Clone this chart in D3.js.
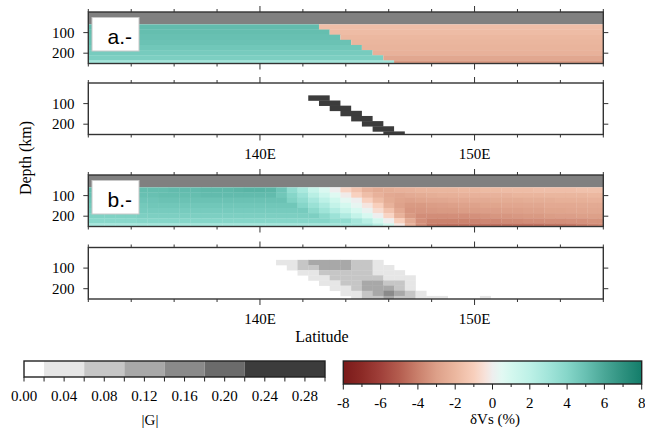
<!DOCTYPE html>
<meta charset="utf-8">
<style>
body { margin: 0; background: #fff; }
</style>
<body>
<div id="chart"></div>
<script src="https://d3js.org/d3.v7.min.js"></script>
<script>

var width = 645, height = 432;
var serif = "'Liberation Serif', 'Times New Roman', Times, 'DejaVu Serif', serif";
var sans = "'Liberation Sans', Arial, Helvetica, sans-serif";

// grid cell centres (longitude) and top of each depth layer (km)
var lons = [132, 132.5, 133, 133.5, 134, 134.5, 135, 135.5, 136, 136.5, 137, 137.5,
            138, 138.5, 139, 139.5, 140, 140.5, 141, 141.5, 142, 142.5, 143, 143.5,
            144, 144.5, 145, 145.5, 146, 146.5, 147, 147.5, 148, 148.5, 149, 149.5,
            150, 150.5, 151, 151.5, 152, 152.5, 153, 153.5, 154, 154.5, 155, 155.5, 156];
var depthTops = [60, 85, 110, 135, 160, 185, 210, 235];
var layerThick = 25;

var lonTicks = [132, 134, 136, 138, 140, 142, 144, 146, 148, 150, 152, 154, 156];
var lonLabels = [140, 150];
var depthTicks = [100, 200];

// a.- input model : fast (slab side) / slow, split at one longitude per layer
var aBoundary = [142.75, 143.25, 143.75, 144.25, 144.75, 145.25, 145.75, 146.25];
var aFast = [5.2, 5.1, 5.0, 4.9, 4.7, 4.5, 4.3, 3.0];
var aSlow = [-1.7, -1.8, -1.95, -2.05, -2.15, -2.25, -2.7, -3.2];
// |G| of the input : one dark block per layer
var aGradFrom = [142.25, 142.75, 143.25, 143.75, 144.25, 144.75, 145.25, 145.75];
var aGradTo   = [143.25, 143.75, 144.25, 144.75, 145.25, 145.75, 146.25, 146.75];
var aGradVal = 0.26;

// b.- recovered model, one row per layer, one value per longitude (132 .. 156)
var bVs = [
  [5.1, 5.1, 5.1, 5.1, 5.1, 5.1, 5.1, 5.1, 5.2, 5.2, 5.2, 5.3, 5.3, 5.3, 5.4, 5.5, 5.5, 5.4, 4.8, 3.6, 2.7, 1.6, 0.8, 0.0,
   -0.85, -1.5, -2.2, -2.5, -2.4, -2.25, -2.2, -2.1, -2.1, -2.05, -2.05, -1.95, -1.95,
   -1.85, -1.85, -1.8, -1.8, -1.8, -1.7, -1.7, -1.7, -1.7, -1.6, -1.6, -1.6],
  [5.0, 5.0, 5.0, 5.0, 5.0, 5.0, 5.0, 5.1, 5.1, 5.1, 5.1, 5.2, 5.2, 5.2, 5.2, 5.2, 5.2, 5.2, 4.7, 4.0, 3.2, 2.2, 1.3, 0.6,
   -0.1, -0.95, -1.7, -2.25, -2.6, -2.7, -2.55, -2.5, -2.4, -2.3, -2.3, -2.25, -2.25,
   -2.2, -2.2, -2.2, -2.1, -2.1, -2.1, -2.05, -2.05, -2.05, -2.05, -1.95, -1.95],
  [4.8, 4.8, 4.8, 4.8, 4.8, 4.8, 4.8, 4.9, 4.9, 4.9, 4.9, 4.9, 4.9, 4.9, 4.9, 4.9, 4.9, 4.9, 4.9, 4.2, 3.6, 2.8, 2.0, 1.2,
   0.4, 0.0, -0.95, -1.8, -2.5, -2.8, -2.9, -2.8, -2.75, -2.7, -2.6, -2.6, -2.55,
   -2.55, -2.5, -2.5, -2.5, -2.4, -2.4, -2.4, -2.3, -2.3, -2.3, -2.25, -2.25],
  [4.6, 4.6, 4.6, 4.6, 4.6, 4.6, 4.7, 4.7, 4.7, 4.7, 4.7, 4.7, 4.7, 4.7, 4.7, 4.7, 4.7, 4.7, 4.7, 4.7, 4.0, 3.3, 2.6, 1.7,
   1.0, 0.3, -0.3, -1.0, -2.2, -2.9, -3.2, -3.2, -3.1, -3.05, -3.0, -2.9, -2.9,
   -2.8, -2.8, -2.75, -2.75, -2.7, -2.7, -2.6, -2.6, -2.6, -2.55, -2.55, -2.55],
  [4.4, 4.4, 4.4, 4.4, 4.4, 4.5, 4.5, 4.5, 4.5, 4.5, 4.5, 4.5, 4.5, 4.5, 4.5, 4.5, 4.5, 4.5, 4.5, 4.5, 4.5, 3.8, 3.1, 2.4,
   1.6, 0.9, 0.2, -0.6, -1.5, -2.6, -3.3, -3.3, -3.25, -3.2, -3.2, -3.1, -3.1,
   -3.05, -3.05, -3.0, -3.0, -2.9, -2.9, -2.8, -2.8, -2.75, -2.75, -2.7, -2.7],
  [4.2, 4.2, 4.2, 4.2, 4.2, 4.3, 4.3, 4.3, 4.3, 4.3, 4.3, 4.3, 4.3, 4.3, 4.3, 4.3, 4.3, 4.3, 4.3, 4.3, 4.3, 4.3, 3.8, 3.2,
   2.5, 1.7, 0.9, 0.0, -0.85, -2.2, -3.2, -3.6, -3.6, -3.6, -3.55, -3.55, -3.5,
   -3.4, -3.3, -3.3, -3.25, -3.2, -3.2, -3.1, -3.05, -3.05, -3.0, -3.0, -3.0],
  [3.9, 3.9, 3.9, 3.9, 3.9, 4.0, 4.0, 4.0, 4.0, 4.0, 4.0, 4.0, 4.0, 4.0, 4.0, 4.0, 4.0, 4.0, 4.0, 4.0, 4.0, 4.0, 4.0, 3.6,
   3.6, 2.9, 2.2, 1.1, 0.0, -1.0, -2.55, -3.55, -3.95, -3.95, -3.95, -3.95, -3.9,
   -3.8, -3.8, -3.7, -3.7, -3.6, -3.6, -3.55, -3.55, -3.5, -3.5, -3.4, -3.4],
  [2.8, 2.8, 2.8, 2.8, 2.8, 2.9, 2.9, 2.9, 2.9, 2.9, 2.9, 2.9, 2.9, 2.9, 2.9, 2.9, 2.9, 2.9, 2.9, 2.9, 2.9, 2.9, 2.9, 2.9,
   2.9, 2.9, 2.9, 2.2, 1.2, -0.2, -2.2, -3.55, -4.3, -4.4, -4.4, -4.4, -4.4,
   -4.4, -4.4, -4.4, -4.4, -4.4, -4.4, -4.3, -4.3, -4.2, -4.0, -3.8, -3.7]
];

// |G| of the recovered model, [longitude, value] per non-empty cell
var bGrad = [
  [[141, 0.04], [141.5, 0.04], [142, 0.08], [142.5, 0.12], [143, 0.12], [143.5, 0.12], [144, 0.12], [144.5, 0.08], [145, 0.08], [145.5, 0.04]],
  [[141.5, 0.04], [142, 0.08], [142.5, 0.08], [143, 0.12], [143.5, 0.12], [144, 0.12], [144.5, 0.08], [145, 0.08], [145.5, 0.04], [146, 0.04]],
  [[142, 0.04], [142.5, 0.04], [143, 0.08], [143.5, 0.08], [144, 0.08], [144.5, 0.08], [145, 0.08], [145.5, 0.04], [146, 0.04], [146.5, 0.04]],
  [[142.5, 0.04], [143, 0.04], [143.5, 0.08], [144, 0.08], [144.5, 0.08], [145, 0.08], [145.5, 0.08], [146, 0.04], [146.5, 0.04], [147, 0.04]],
  [[143, 0.04], [143.5, 0.04], [144, 0.08], [144.5, 0.08], [145, 0.12], [145.5, 0.12], [146, 0.08], [146.5, 0.08], [147, 0.04]],
  [[143.5, 0.04], [144, 0.04], [144.5, 0.08], [145, 0.12], [145.5, 0.12], [146, 0.12], [146.5, 0.08], [147, 0.04]],
  [[144, 0.04], [144.5, 0.04], [145, 0.08], [145.5, 0.12], [146, 0.16], [146.5, 0.12], [147, 0.08], [147.5, 0.04]],
  [[144.5, 0.04], [145, 0.08], [145.5, 0.08], [146, 0.12], [146.5, 0.08], [147, 0.08], [147.5, 0.04], [148, 0.04], [148.5, 0.04], [150.5, 0.04]]
];

// colour bars
var gBins = [0, 0.02, 0.06, 0.10, 0.14, 0.18, 0.22, 0.30];
var gColors = ["#ffffff", "#e6e6e6", "#c6c6c6", "#a8a8a8", "#8a8a8a", "#6b6b6b", "#3c3c3c"];
var gTicks = [0, 0.02, 0.04, 0.06, 0.08, 0.10, 0.12, 0.14, 0.16, 0.18, 0.20, 0.22, 0.24, 0.26, 0.28, 0.30];
var gLabels = [0, 0.04, 0.08, 0.12, 0.16, 0.20, 0.24, 0.28];
var vsStops = [-8, -7, -6, -5, -4, -3, -2, -1, -0.4, 0, 0.5, 1, 2, 3, 4, 5, 6, 7, 8];
var vsColors = ["#7a1a1a", "#8c2a26", "#a0403a", "#b45d4f", "#ca806c", "#dda089", "#ebb79f", "#f8cfbc", "#f7e2da",
                "#eeeeee", "#e2f9f3", "#d4f8ef", "#bdf1e7", "#a2e5da", "#86d6c9", "#68c0b2", "#4aa797", "#2e917f", "#137d6a"];
var vsTicks = [-8, -7, -6, -5, -4, -3, -2, -1, 0, 1, 2, 3, 4, 5, 6, 7, 8];
var vsLabels = [-8, -6, -4, -2, 0, 2, 4, 6, 8];

var vsColor = d3.scaleLinear().domain(vsStops).range(vsColors).clamp(true);
var gColor = d3.scaleThreshold().domain(gBins.slice(1, -1)).range(gColors);

var x = d3.scaleLinear().domain([132, 156]).range([88.3, 603.3]);
var panelH = 51.5;

var svg = d3.select("#chart").append("svg")
    .attr("width", width).attr("height", height)
    .attr("font-family", serif);

function addText(g, px, py, str, size, anchor, family) {
  return g.append("text").attr("x", px).attr("y", py)
    .attr("text-anchor", anchor || "middle")
    .attr("font-family", family || serif)
    .attr("font-size", size + "px")
    .attr("fill", "#000")
    .text(str);
}

var panels = [
  {id: "pa", top: 12,    kind: "vs", label: "a.-"},
  {id: "ga", top: 83,    kind: "g"},
  {id: "pb", top: 175,   kind: "vs", label: "b.-"},
  {id: "gb", top: 247.5, kind: "g"}
];

panels.forEach(function(p) {
  p.y = d3.scaleLinear().domain([0, 250]).range([p.top, p.top + panelH]);
  svg.append("clipPath").attr("id", "clip-" + p.id)
    .append("rect").attr("x", x(132)).attr("y", p.top)
    .attr("width", x(156) - x(132)).attr("height", panelH);
  p.g = svg.append("g").attr("clip-path", "url(#clip-" + p.id + ")");
});

function cellH(p, d) { return p.y(d + layerThick) - p.y(d) + 0.3; }

// ---- a.- input velocity
var pa = panels[0];
pa.g.append("rect").attr("x", x(132)).attr("y", pa.y(0))
  .attr("width", x(156) - x(132)).attr("height", pa.y(60) - pa.y(0)).attr("fill", "#808080");
depthTops.forEach(function(d, k) {
  pa.g.append("rect")
    .attr("x", x(131.75)).attr("y", pa.y(d))
    .attr("width", x(aBoundary[k]) - x(131.75)).attr("height", cellH(pa, d))
    .attr("fill", vsColor(aFast[k]));
  pa.g.append("rect")
    .attr("x", x(aBoundary[k])).attr("y", pa.y(d))
    .attr("width", x(156.25) - x(aBoundary[k])).attr("height", cellH(pa, d))
    .attr("fill", vsColor(aSlow[k]));
});

// ---- a.- |G|
var ga = panels[1];
depthTops.forEach(function(d, k) {
  ga.g.append("rect")
    .attr("x", x(aGradFrom[k])).attr("y", ga.y(d))
    .attr("width", x(aGradTo[k]) - x(aGradFrom[k])).attr("height", cellH(ga, d))
    .attr("fill", gColor(aGradVal));
});

// ---- b.- recovered velocity
var pb = panels[2];
pb.g.append("rect").attr("x", x(132)).attr("y", pb.y(0))
  .attr("width", x(156) - x(132)).attr("height", pb.y(60) - pb.y(0)).attr("fill", "#808080");
bVs.forEach(function(row, k) {
  var d = depthTops[k];
  pb.g.selectAll(null).data(row).enter().append("rect")
    .attr("x", function(v, i) { return x(lons[i] - 0.25); })
    .attr("y", pb.y(d))
    .attr("width", x(0.75) - x(0.25) + 0.3)
    .attr("height", cellH(pb, d))
    .attr("fill", function(v) { return vsColor(v); });
});

// ---- b.- |G|
var gb = panels[3];
bGrad.forEach(function(row, k) {
  var d = depthTops[k];
  gb.g.selectAll(null).data(row).enter().append("rect")
    .attr("x", function(c) { return x(c[0] - 0.25); })
    .attr("y", gb.y(d))
    .attr("width", x(0.75) - x(0.25) + 0.3)
    .attr("height", cellH(gb, d))
    .attr("fill", function(c) { return gColor(c[1]); });
});

// ---- frames, ticks, labels
panels.forEach(function(p) {
  var bottom = p.top + panelH;
  var fr = svg.append("g");
  fr.append("rect").attr("x", x(132)).attr("y", p.top)
    .attr("width", x(156) - x(132)).attr("height", panelH)
    .attr("fill", "none").attr("stroke", "#333").attr("stroke-width", 1.4);

  lonTicks.forEach(function(t) {
    var len = lonLabels.indexOf(t) >= 0 ? 6 : 3;
    fr.append("line").attr("x1", x(t)).attr("x2", x(t)).attr("y1", p.top).attr("y2", p.top - len)
      .attr("stroke", "#333").attr("stroke-width", 1);
    fr.append("line").attr("x1", x(t)).attr("x2", x(t)).attr("y1", bottom).attr("y2", bottom + len)
      .attr("stroke", "#333").attr("stroke-width", 1);
  });
  depthTicks.forEach(function(t) {
    fr.append("line").attr("x1", x(132) - 5).attr("x2", x(132)).attr("y1", p.y(t)).attr("y2", p.y(t))
      .attr("stroke", "#333").attr("stroke-width", 1);
    fr.append("line").attr("x1", x(156)).attr("x2", x(156) + 5).attr("y1", p.y(t)).attr("y2", p.y(t))
      .attr("stroke", "#333").attr("stroke-width", 1);
    addText(fr, 74.5, p.y(t) + 5, t, 15, "end");
  });

  if (p.kind == "g") {
    lonLabels.forEach(function(t) {
      addText(fr, x(t), bottom + 24.5, t + "E", 15);
    });
  }

  if (p.label) {
    fr.append("rect").attr("x", 92).attr("y", p.top + 5.5).attr("width", 47).attr("height", 33.5)
      .attr("fill", "#fff").attr("stroke", "#c8c8c8").attr("stroke-width", 1);
    addText(fr, 107.5, p.top + 32, p.label, 21, "start", sans);
  }
});

addText(svg, 0, 0, "Depth (km)", 16).attr("transform", "translate(31,158) rotate(-90)");
addText(svg, 322, 342, "Latitude", 16);

// ---- |G| colour bar
var gx = d3.scaleLinear().domain([0, 0.30]).range([24, 325]);
var gBar = svg.append("g");
gBar.selectAll("rect").data(gColors).enter().append("rect")
  .attr("x", function(c, i) { return gx(gBins[i]); })
  .attr("y", 361)
  .attr("width", function(c, i) { return gx(gBins[i + 1]) - gx(gBins[i]); })
  .attr("height", 16)
  .attr("fill", function(c) { return c; });
gBar.append("rect").attr("x", 24).attr("y", 361).attr("width", 301).attr("height", 16)
  .attr("fill", "none").attr("stroke", "#222").attr("stroke-width", 1.4);
gTicks.forEach(function(t) {
  gBar.append("line").attr("x1", gx(t)).attr("x2", gx(t)).attr("y1", 377).attr("y2", 381.5)
    .attr("stroke", "#222").attr("stroke-width", 1);
});
gLabels.forEach(function(t) {
  addText(gBar, gx(t), 401, d3.format(".2f")(t), 15);
});
addText(gBar, 150, 425, "|G|", 15);

// ---- dVs colour bar
var vx = d3.scaleLinear().domain([-8, 8]).range([343.3, 641.7]);
var grad = svg.append("defs").append("linearGradient").attr("id", "vsgrad")
  .attr("x1", "0%").attr("x2", "100%").attr("y1", "0%").attr("y2", "0%");
grad.selectAll("stop").data(vsStops).enter().append("stop")
  .attr("offset", function(s) { return ((s + 8) / 16 * 100) + "%"; })
  .attr("stop-color", function(s) { return vsColor(s); });
var vBar = svg.append("g");
vBar.append("rect").attr("x", vx(-8)).attr("y", 361).attr("width", vx(8) - vx(-8)).attr("height", 23)
  .attr("fill", "url(#vsgrad)").attr("stroke", "#222").attr("stroke-width", 1.4);
vsTicks.forEach(function(t) {
  var major = vsLabels.indexOf(t) >= 0;
  vBar.append("line").attr("x1", vx(t)).attr("x2", vx(t)).attr("y1", 384).attr("y2", major ? 389.5 : 387)
    .attr("stroke", "#222").attr("stroke-width", 1);
});
vsLabels.forEach(function(t) {
  addText(vBar, vx(t), 408, t < 0 ? "-" + Math.abs(t) : String(t), 15);
});
addText(vBar, 495, 424, "\u03b4Vs (%)", 15);

</script>
